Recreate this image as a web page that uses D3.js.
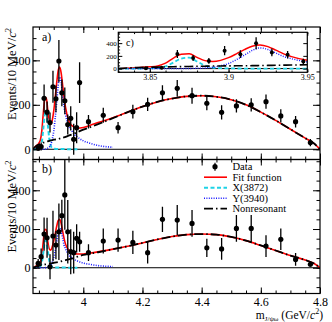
<!DOCTYPE html>
<html>
<head>
<meta charset="utf-8">
<script src="https://cdnjs.cloudflare.com/ajax/libs/d3/7.8.5/d3.min.js"></script>
<style>
  body { margin:0; background:#fff; }
  svg { display:block; }
  text { font-family:"Liberation Serif","Times New Roman",serif; fill:#000; }
</style>
</head>
<body>
<div class="svgWrap"></div>
<script>
// bin centres: 10 MeV bins up to 3.99, 50 MeV bins above (all per 10 MeV)
var mass = [3.8475, 3.8575, 3.8675, 3.8775, 3.8875, 3.8975, 3.9075, 3.9175, 3.9275, 3.9375,
            3.9475, 3.9575, 3.9675, 3.9775, 3.9875,
            4.0175, 4.0675, 4.1175, 4.1675, 4.2175, 4.2675, 4.3175, 4.3675, 4.4175, 4.4675,
            4.5175, 4.5675, 4.6175, 4.6675, 4.7175, 4.7675];
var eventsA = [5, 12, 229, 167, 120, 281, 227, 397, 254, 218, 111, 139, 45, 97, 300,
               124, 153, 97, 169, 202, 254, 274, 241, 207, 166, 195, 200, 214, 150, 124, 30];
var errA = [12, 18, 62, 48, 45, 72, 60, 95, 60, 60, 45, 55, 70, 70, 92,
            30, 34, 26, 31, 30, 34, 38, 36, 32, 32, 30, 30, 32, 30, 26, 16];
var eventsB = [23, 57, 174, 155, 5, 164, 117, 186, 269, 376, 186, 83, 78, 152, 134,
               78, 138, 143, 131, 78, 250, 246, 229, 103, 97, 203, 203, 112, 147, 43, 18];
var errB = [22, 43, 86, 103, 65, 130, 73, 146, 82, 180, 164, 116, 108, 73, 52,
            43, 65, 60, 60, 56, 65, 78, 69, 47, 56, 69, 69, 56, 56, 33, 13];

// fit components
var curveMass = [3.83, 3.84, 3.85, 3.855, 3.86, 3.865, 3.87, 3.875, 3.88, 3.885,
                 3.89, 3.895, 3.90, 3.905, 3.91, 3.915, 3.92, 3.925, 3.93, 3.935,
                 3.94, 3.95, 3.96, 3.97, 3.98, 4.0, 4.02, 4.05, 4.1, 4.15,
                 4.2, 4.25, 4.3, 4.35, 4.4, 4.45, 4.5, 4.55, 4.6, 4.65,
                 4.7, 4.75, 4.78, 4.8];
var fitA = [0, 15, 28, 42, 85, 165, 225, 232, 175, 125, 112, 130, 172, 232, 298, 352, 370, 345, 290, 232,
            188, 130, 108, 99, 95, 98, 106, 120, 142, 167, 192, 213, 228, 238, 241, 236, 223, 200, 167, 130,
            90, 50, 26, 0];
var x3872A = [0, 1, 4, 10, 35, 95, 158, 172, 112, 48, 16, 6, 3, 2, 1, 1, 1, 1, 1, 1, 1, 0, 0, 0, 0];
var y3940A = [0, 0, 0, 0, 0, 0, 0, 2, 5, 10, 20, 45, 80, 140, 210, 285, 325, 300, 245, 190,
              155, 105, 85, 66, 55, 38, 28, 17, 9];
var nonresA = [0, 14, 21, 24, 27, 30, 32, 34, 36, 38, 40, 41, 43, 44, 45, 46, 48, 50, 52, 54,
               56, 61, 66, 71, 77, 88, 98, 113, 140, 167, 192, 213, 228, 238, 241, 236, 223, 200, 167, 130,
               90, 50, 26, 0];
var fitB = [0, 8, 20, 30, 65, 140, 198, 195, 135, 97, 90, 108, 138, 175, 213, 243, 250, 230, 190, 152,
            122, 92, 80, 73, 71, 71, 75, 82, 96, 111, 128, 146, 161, 171, 174, 171, 159, 140, 115, 89,
            63, 40, 22, 0];
var x3872B = [0, 1, 3, 8, 28, 80, 135, 140, 90, 37, 12, 5, 2, 1, 1, 1, 1, 1, 1, 1, 1, 0, 0, 0, 0];
var y3940B = [0, 0, 0, 0, 0, 0, 0, 1, 3, 6, 13, 28, 50, 88, 132, 180, 205, 190, 155, 117,
              98, 66, 54, 42, 35, 24, 18, 11, 6];
var nonresB = [0, 6, 10, 12, 14, 16, 17, 18, 20, 21, 22, 24, 25, 27, 28, 30, 31, 33, 35, 37,
               39, 43, 47, 52, 57, 66, 72, 80, 96, 111, 128, 146, 161, 171, 174, 171, 159, 140, 115, 89,
               63, 40, 22, 0];

var xMajor = [4, 4.2, 4.4, 4.6, 4.8];
var xLabels = ['4', '4.2', '4.4', '4.6', '4.8'];
var yMajor = [0, 200, 400];
var yLabels = ['0', '200', '400'];
var insetXMajor = [3.85, 3.9, 3.95];
var insetXLabels = ['3.85', '3.9', '3.95'];
var legendLabels = ['Data', 'Fit function', 'X(3872)', 'Y(3940)', 'Nonresonant'];

var svg = d3.select('.svgWrap').append('svg')
  .attr('width', 332)
  .attr('height', 322);

var L = 33, R = 320;
var x = d3.scaleLinear().domain([3.83, 4.8]).range([L, R]);

// line styles: fit, X(3872), Y(3940), nonresonant
var lineStyle = [
  {stroke:'#ff0000', w:1.6, dash:null},
  {stroke:'#1fd3e6', w:2, dash:'4,2.5'},
  {stroke:'#1a1aff', w:1.6, dash:'1,1.4'},
  {stroke:'#000', w:1.8, dash:'9,3,1.5,3'}
];

function curvePath(xs, ys, vals){
  return d3.line()
    .x(function(v, i){ return xs(curveMass[i]); })
    .y(function(v){ return ys(v); })
    .curve(d3.curveMonotoneX)(vals);
}

//curves and data points into a clipped group
function drawContent(g, xs, ys, p, r, lw){
  g.append('line')
    .attr('x1', xs.range()[0]).attr('x2', xs.range()[1])
    .attr('y1', ys(0)).attr('y2', ys(0))
    .attr('stroke', '#000').attr('stroke-width', 1);
  [p.fit, p.xs, p.ys, p.nr].forEach(function(vals, k){
    var s = lineStyle[k];
    g.append('path')
      .attr('d', curvePath(xs, ys, vals))
      .attr('fill', 'none')
      .attr('stroke', s.stroke)
      .attr('stroke-width', s.w * lw)
      .attr('stroke-dasharray', s.dash);
  });
  g.selectAll('line.err').data(p.ev).enter().append('line')
    .attr('class', 'err')
    .attr('x1', function(d, i){ return xs(mass[i]); })
    .attr('x2', function(d, i){ return xs(mass[i]); })
    .attr('y1', function(d, i){ return ys(d - p.er[i]); })
    .attr('y2', function(d, i){ return ys(d + p.er[i]); })
    .attr('stroke', '#000').attr('stroke-width', 1.3);
  g.selectAll('circle.pt').data(p.ev).enter().append('circle')
    .attr('class', 'pt')
    .attr('cx', function(d, i){ return xs(mass[i]); })
    .attr('cy', function(d){ return ys(d); })
    .attr('r', r)
    .attr('fill', '#000');
}

function addAxis(axis, tx, ty, size){
  var g = svg.append('g')
    .attr('transform', 'translate(' + tx + ',' + ty + ')')
    .call(axis);
  g.select('.domain').remove();
  g.selectAll('line').attr('stroke-width', 1);
  g.attr('font-size', size || 12).attr('font-family', null);
  return g;
}

var panels = [
  {name:'a', top:27, bottom:159.5, dom:[-46, 550], fit:fitA, xs:x3872A, ys:y3940A, nr:nonresA, ev:eventsA, er:errA},
  {name:'b', top:159.5, bottom:293.5, dom:[-133, 559], fit:fitB, xs:x3872B, ys:y3940B, nr:nonresB, ev:eventsB, er:errB}
];

var xMinor = d3.range(3.85, 4.79, 0.05);

panels.forEach(function(p, pi){
  var y = d3.scaleLinear().domain(p.dom).range([p.bottom, p.top]);
  var yMinor = d3.range(-100, 551, 50).filter(function(v){ return v > p.dom[0] && v < p.dom[1]; });

  svg.append('clipPath').attr('id', 'clip-' + p.name)
    .append('rect')
    .attr('x', L).attr('y', p.top)
    .attr('width', R - L).attr('height', p.bottom - p.top);
  var g = svg.append('g').attr('clip-path', 'url(#clip-' + p.name + ')');
  drawContent(g, x, y, p, 2.6, 1);

  //X ticks, bottom and top, pointing inwards
  addAxis(d3.axisBottom(x).tickValues(xMinor).tickSize(-3).tickFormat(''), 0, p.bottom);
  addAxis(d3.axisBottom(x).tickValues(xMajor).tickSize(-6).tickPadding(3.5)
    .tickFormat(function(d, i){ return pi == 1 ? xLabels[i] : ''; }), 0, p.bottom);
  addAxis(d3.axisTop(x).tickValues(xMinor).tickSize(-3).tickFormat(''), 0, p.top);
  addAxis(d3.axisTop(x).tickValues(xMajor).tickSize(-6).tickFormat(''), 0, p.top);

  //Y ticks, left and right
  addAxis(d3.axisLeft(y).tickValues(yMinor).tickSize(-3.5).tickFormat(''), L, 0);
  addAxis(d3.axisLeft(y).tickValues(yMajor).tickSize(-7).tickPadding(2.5)
    .tickFormat(function(d, i){ return yLabels[i]; }), L, 0);
  addAxis(d3.axisRight(y).tickValues(yMinor).tickSize(-3.5).tickFormat(''), R, 0);
  addAxis(d3.axisRight(y).tickValues(yMajor).tickSize(-7).tickFormat(''), R, 0);

  //Frame
  svg.append('rect')
    .attr('x', L).attr('y', p.top)
    .attr('width', R - L).attr('height', p.bottom - p.top)
    .attr('fill', 'none').attr('stroke', '#000').attr('stroke-width', 1.2);

  //Y Axis Title
  var yt = svg.append('text')
    .attr('transform', 'translate(15.5,' + (p.top + 1) + ') rotate(-90)')
    .attr('text-anchor', 'end')
    .attr('font-size', 12.5);
  yt.append('tspan').text('Events/10 MeV/');
  yt.append('tspan').attr('font-style', 'italic').text('c');
  yt.append('tspan').attr('font-size', 8.5).attr('dy', -5).text('2');

  //Panel label
  svg.append('text')
    .attr('x', 42).attr('y', p.top + 13.5)
    .attr('font-size', 12)
    .text(p.name + ')');
});

//Inset c) zoom on the low mass region of panel a
var xi = d3.scaleLinear().domain([3.83, 3.95]).range([118.3, 307.3]);
var yi = d3.scaleLinear().domain([-58, 570]).range([72.3, 32.3]);
svg.append('rect')
  .attr('x', 118.3).attr('y', 32.3).attr('width', 189).attr('height', 40)
  .attr('fill', '#fff');
svg.append('clipPath').attr('id', 'clip-c')
  .append('rect')
  .attr('x', 118.3).attr('y', 32.3).attr('width', 189).attr('height', 40);
var gi = svg.append('g').attr('clip-path', 'url(#clip-c)');
drawContent(gi, xi, yi, panels[0], 2, 0.9);

var xiMinor = d3.range(3.83, 3.951, 0.01);
addAxis(d3.axisBottom(xi).tickValues(xiMinor).tickSize(-1.8).tickFormat(''), 0, 72.3);
addAxis(d3.axisBottom(xi).tickValues(insetXMajor).tickSize(-3.5).tickPadding(2)
  .tickFormat(function(d, i){ return insetXLabels[i]; }), 0, 72.3, 8);
addAxis(d3.axisTop(xi).tickValues(xiMinor).tickSize(-1.8).tickFormat(''), 0, 32.3);
addAxis(d3.axisTop(xi).tickValues(insetXMajor).tickSize(-3.5).tickFormat(''), 0, 32.3);
addAxis(d3.axisLeft(yi).tickValues([-50, 50, 100, 150, 250, 300, 350, 450, 500, 550]).tickSize(-1.8).tickFormat(''), 118.3, 0);
addAxis(d3.axisLeft(yi).tickValues(yMajor).tickSize(-4).tickPadding(1.5)
  .tickFormat(function(d, i){ return yLabels[i]; }), 118.3, 0, 7);
addAxis(d3.axisRight(yi).tickValues(yMajor).tickSize(-4).tickFormat(''), 307.3, 0);
svg.append('rect')
  .attr('x', 118.3).attr('y', 32.3).attr('width', 189).attr('height', 40)
  .attr('fill', 'none').attr('stroke', '#000').attr('stroke-width', 1.2);
svg.append('text')
  .attr('x', 126).attr('y', 45.5)
  .attr('font-size', 10)
  .text('c)');

//Legend
var legend = svg.append('g');
legendLabels.forEach(function(lab, i){
  var ly = 166.7 + i * 10.5;
  if(i == 0){
    legend.append('line')
      .attr('x1', 215).attr('x2', 215).attr('y1', ly - 4).attr('y2', ly + 4)
      .attr('stroke', '#000').attr('stroke-width', 1.2);
    legend.append('circle')
      .attr('cx', 215).attr('cy', ly).attr('r', 2.6).attr('fill', '#000');
  } else {
    var s = lineStyle[i - 1];
    legend.append('line')
      .attr('x1', 204).attr('x2', 227).attr('y1', ly).attr('y2', ly)
      .attr('stroke', s.stroke).attr('stroke-width', s.w)
      .attr('stroke-dasharray', s.dash);
  }
  legend.append('text')
    .attr('x', 232.5).attr('y', ly)
    .attr('dy', '0.35em')
    .attr('font-size', 10.5)
    .text(lab);
});

//X Axis Title
var xt = svg.append('text')
  .attr('x', 323).attr('y', 318.5)
  .attr('text-anchor', 'end')
  .attr('font-size', 11.5);
xt.append('tspan').text('m');
xt.append('tspan').attr('font-size', 7).attr('dy', 2.5).text('J/ψω');
xt.append('tspan').attr('dy', -2.5).text(' (GeV/');
xt.append('tspan').attr('font-style', 'italic').text('c');
xt.append('tspan').attr('font-size', 8).attr('dy', -4.5).text('2');
xt.append('tspan').attr('dy', 4.5).text(')');
</script>
</body>
</html>
